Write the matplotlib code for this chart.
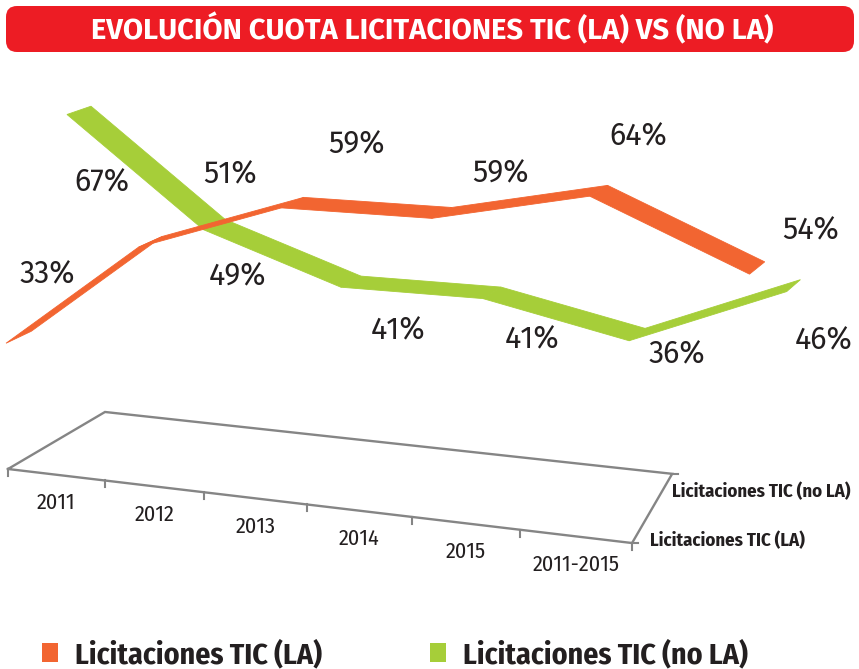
import numpy as np
import matplotlib
matplotlib.use("Agg")
import matplotlib.pyplot as plt
from matplotlib.patches import Polygon, FancyBboxPatch, Patch
from matplotlib import font_manager

title = "EVOLUCIÓN CUOTA LICITACIONES TIC (LA) VS (NO LA)"
categories = ["2011", "2012", "2013", "2014", "2015", "2011-2015"]
series_names = ["Licitaciones TIC (LA)", "Licitaciones TIC (no LA)"]
cuota_la = [33, 51, 59, 59, 64, 54]
cuota_no_la = [67, 49, 41, 41, 36, 46]

colors = ["#F26531", "#A6CE39"]
text_color = "#231F20"
floor_color = "#858585"

installed = {f.name for f in font_manager.fontManager.ttflist}


def pick(*names):
    return [n for n in names if n in installed] + ["DejaVu Sans"]


font_title = pick("Fira Sans", "Asap", "Open Sans")
font_bold = pick("Fira Sans Condensed", "Asap Condensed", "Encode Sans Condensed", "Archivo Narrow")
font_pct = pick("Fira Sans", "Hind", "Asap")
font_cond = pick("Fira Sans Condensed", "Asap Condensed", "Archivo Narrow")

# perspective of the 3D view: (category, depth, value %) -> pixel
P_ribbon = np.array([[129.2995063, 69.7728783, -0.2779999, -71.9331583],
                     [5.505878, -18.0466048, -5.9852514, 535.1770444],
                     [-0.0186848, 0.0435571, -0.0008991, 1.0]])
# floor plane: (category, depth) -> pixel
H_floor = np.array([[95.43, 54.06, 8.0],
                    [4.968, -6.678, 469.0],
                    [-0.013574, 0.053, 1.0]])
half_depth = 0.18


def project(M, pts):
    pts = np.atleast_2d(np.asarray(pts, float))
    h = (M @ np.c_[pts, np.ones(len(pts))].T).T
    return h[:, :2] / h[:, 2:]


fig = plt.figure(figsize=(8.59, 6.69), dpi=100)
ax = fig.add_axes([0, 0, 1, 1])
ax.set_xlim(0, 859)
ax.set_ylim(669, 0)
ax.axis("off")

# title bar
ax.add_patch(FancyBboxPatch((6, 6), 848, 46, boxstyle="round,pad=0,rounding_size=11",
                            facecolor="#ED1C24", edgecolor="none"))
ax.text(432, 39, title, color="white", fontsize=21, fontweight="bold",
        family=font_title, ha="center", va="baseline")

# floor
n = len(categories)
corners = project(H_floor, [[0, 0], [n, 0], [n, 2], [0, 2], [0, 0]])
ax.plot(corners[:, 0], corners[:, 1], color=floor_color, lw=1.7, solid_joinstyle="miter")
for i in range(n + 1):
    p = project(H_floor, [[i, 0]])[0]
    ax.plot([p[0], p[0]], [p[1], p[1] + 7], color=floor_color, lw=1.5)
for z in [0, 2]:
    p = project(H_floor, [[n, z]])[0]
    ax.plot([p[0], p[0] + 6], [p[1], p[1]], color=floor_color, lw=1.5)

for i, lab in enumerate(categories):
    p = project(H_floor, [[i + 0.5, 0]])[0]
    ax.text(p[0], p[1] + 28, lab, fontsize=16, family=font_cond, color=text_color,
            ha="center", va="center")

for z, (dx, dy), lab in zip([0.5, 1.5], [(7, 16), (9, 2)], series_names):
    p = project(H_floor, [[n, z]])[0]
    ax.text(p[0] + dx, p[1] + dy, lab, fontsize=13.5, fontweight="bold", family=font_bold,
            color=text_color, ha="left", va="center")

# ribbons, back series first
x = np.arange(n) + 0.5
values = [cuota_la, cuota_no_la]
for s in [1, 0]:
    zc = s + 0.5
    v = np.asarray(values[s], float)
    front = project(P_ribbon, np.c_[x, np.full(n, zc - half_depth), v])
    back = project(P_ribbon, np.c_[x, np.full(n, zc + half_depth), v])
    for k in range(n - 1):
        quad = [front[k], front[k + 1], back[k + 1], back[k]]
        ax.add_patch(Polygon(quad, closed=True, facecolor=colors[s], edgecolor=colors[s],
                             lw=0.6, zorder=2 + (1 - s)))

# data labels, placed in pixels from each point
label_dx = [[29, 79, 64, 59, 39, 53], [23, 23, 47, 40, 40, 30]]
label_dy = [[-63, -67, -58, -39, -54, -37], [72, 52, 49, 47, 20, 55]]
for s in [0, 1]:
    zc = s + 0.5
    v = np.asarray(values[s], float)
    centre = project(P_ribbon, np.c_[x, np.full(n, zc), v])
    for k, val in enumerate(values[s]):
        ax.text(centre[k, 0] + label_dx[s][k], centre[k, 1] + label_dy[s][k], f"{val}%",
                fontsize=22, family=font_pct, fontweight="normal", fontstyle="normal",
                color=text_color, ha="center", va="center", zorder=5)

handles = [Patch(facecolor=c, edgecolor="none") for c in colors]
ax.legend(handles, series_names, loc="center left", bbox_to_anchor=(42, 655),
          bbox_transform=ax.transData, ncol=2, frameon=False, borderpad=0, borderaxespad=0,
          handlelength=0.54, handleheight=0.6, handletextpad=0.57, columnspacing=3.6,
          prop={"family": font_bold, "weight": "bold", "size": 21.5},
          labelcolor=text_color)

fig.savefig("out.png", dpi=100)
